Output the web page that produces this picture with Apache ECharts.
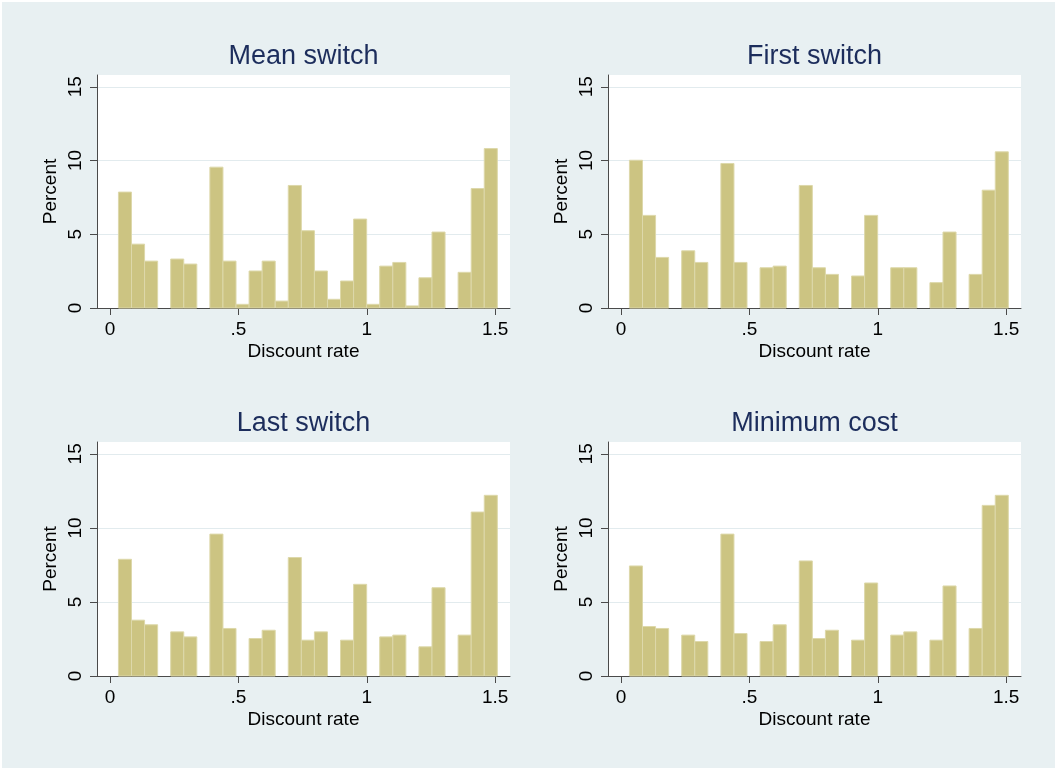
<!DOCTYPE html>
<html>
<head>
<meta charset="utf-8">
<script src="https://cdn.jsdelivr.net/npm/echarts@6/dist/echarts.min.js"></script>
<style>
html,body{margin:0;padding:0;background:#ffffff;}
#bg{position:absolute;left:2px;top:2px;right:2px;bottom:2px;background:#e8f0f2;}
#main{position:absolute;left:0;top:0;width:1057px;height:770px;}
</style>
</head>
<body>
<div id="bg"></div>
<div id="main"></div>
<script>
// ---- data ----
const panelTitles = ["Mean switch", "First switch", "Last switch", "Minimum cost"];
const binStart = 0.0325;
const binWidth = 0.0509;
const meanSwitch  = [7.86,4.33,3.18,0,3.32,2.98,0,9.55,3.18,0.25,2.51,3.18,0.47,8.31,5.24,2.51,0.59,1.83,6.03,0.25,2.84,3.09,0.14,2.05,5.15,0,2.42,8.10,10.81];
const firstSwitch = [10.02,6.28,3.43,0,3.88,3.09,0,9.80,3.09,0,2.73,2.84,0,8.31,2.73,2.28,0,2.17,6.28,0,2.73,2.73,0,1.72,5.15,0,2.28,7.99,10.59];
const lastSwitch  = [7.88,3.77,3.46,0,2.98,2.64,0,9.58,3.21,0,2.53,3.09,0,8.00,2.42,2.98,0,2.42,6.19,0,2.64,2.76,0,1.97,5.96,0,2.76,11.07,12.20];
const minCost     = [7.43,3.34,3.21,0,2.76,2.33,0,9.58,2.87,0,2.33,3.46,0,7.77,2.53,3.09,0,2.42,6.28,0,2.76,2.98,0,2.42,6.08,0,3.21,11.52,12.20];
const xTicks = [0, 0.5, 1, 1.5];
const yTicks = [0, 5, 10, 15];
const xAxisTitle = "Discount rate";
const yAxisTitle = "Percent";

// ---- layout / style ----
const seriesData = [meanSwitch, firstSwitch, lastSwitch, minCost];
const grids = [
  {left: 97,  top: 75,  width: 413, height: 233},
  {left: 608, top: 75,  width: 413, height: 233},
  {left: 97,  top: 442, width: 413, height: 234},
  {left: 608, top: 442, width: 413, height: 234}
];
const FONT = "'Liberation Sans', Arial, Helvetica, sans-serif";
const axisColor = '#4a4a4a';
const barFill = '#ccc482';
const barStroke = '#ddd8aa';

const option = {
  backgroundColor: 'transparent',
  animation: false,
  title: grids.map((g, i) => ({
    text: panelTitles[i],
    left: g.left + g.width / 2,
    top: g.top - 32,
    textAlign: 'center',
    padding: 0,
    textStyle: {fontFamily: FONT, fontSize: 27, fontWeight: 'normal', color: '#1c2d5c'}
  })),
  grid: grids.map(g => Object.assign({show: true, backgroundColor: '#ffffff', borderWidth: 0, containLabel: false}, g)),
  xAxis: grids.map((g, i) => ({
    type: 'value', gridIndex: i, min: -0.051, max: 1.558,
    name: xAxisTitle, nameLocation: 'middle', nameGap: 34,
    nameTextStyle: {fontFamily: FONT, fontSize: 19, color: '#000'},
    axisLine: {show: true, onZero: false, lineStyle: {color: axisColor, width: 1}},
    axisTick: {show: true, inside: false, length: 7, customValues: xTicks, lineStyle: {color: axisColor}},
    axisLabel: {customValues: xTicks, margin: 12, fontFamily: FONT, fontSize: 19, color: '#000',
      formatter: v => v === 0 ? '0' : String(v).replace(/^0\./, '.')},
    splitLine: {show: false}
  })),
  yAxis: grids.map((g, i) => ({
    type: 'value', gridIndex: i, min: 0, max: 15.8,
    name: yAxisTitle, nameLocation: 'middle', nameGap: 37, nameRotate: 90,
    nameTextStyle: {fontFamily: FONT, fontSize: 19, color: '#000'},
    axisLine: {show: true, onZero: false, lineStyle: {color: axisColor, width: 1}},
    axisTick: {show: true, inside: false, length: 7, customValues: yTicks, lineStyle: {color: axisColor}},
    axisLabel: {customValues: yTicks, rotate: 90, margin: 12, fontFamily: FONT, fontSize: 19, color: '#000'},
    splitLine: {show: true, lineStyle: {color: '#e2ebee', width: 1}}
  })),
  series: seriesData.map((vals, i) => ({
    type: 'custom', xAxisIndex: i, yAxisIndex: i,
    data: vals.map((h, k) => [binStart + k * binWidth, binStart + (k + 1) * binWidth, h]),
    encode: {x: [0, 1], y: 2},
    renderItem: function (params, api) {
      const x0 = api.value(0), x1 = api.value(1), h = api.value(2);
      if (!h) return null;
      const p0 = api.coord([x0, 0]);
      const p1 = api.coord([x1, h]);
      return {
        type: 'rect',
        shape: {x: p0[0], y: p1[1], width: p1[0] - p0[0], height: p0[1] - p1[1]},
        style: {fill: barFill, stroke: barStroke, lineWidth: 1}
      };
    }
  }))
};

const chart = echarts.init(document.getElementById('main'), null, {renderer: 'canvas'});
chart.setOption(option);
</script>
</body>
</html>
